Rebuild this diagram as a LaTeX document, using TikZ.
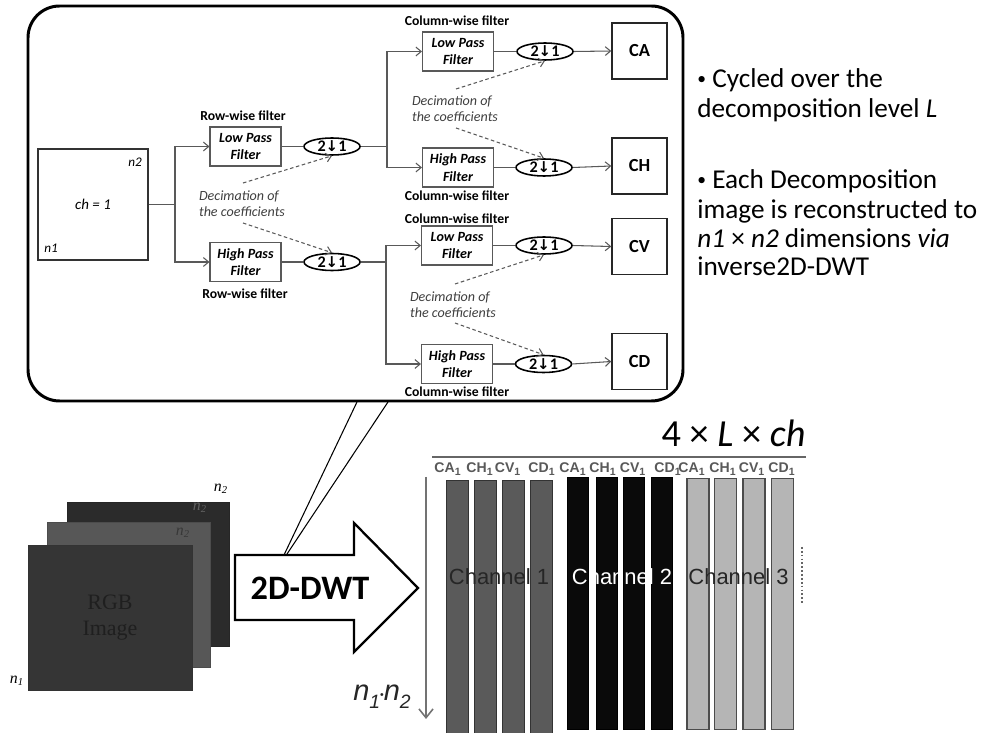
\documentclass[tikz,border=0pt]{standalone}
\usepackage{fontspec}
\setmainfont{Carlito}
\newfontfamily\arialf{Liberation Sans}
\newfontfamily\timesf{Liberation Serif}
\newfontfamily\dejavuf{DejaVu Sans}
\usetikzlibrary{shapes.geometric,arrows.meta}
\definecolor{sqback}{HTML}{2B2B2B}
\definecolor{sqmid}{HTML}{575757}
\definecolor{sqfront}{HTML}{353535}
\definecolor{barA}{HTML}{5A5A5A}
\definecolor{barB}{HTML}{0A0A0A}
\definecolor{barC}{HTML}{B5B5B5}
\newcommand\dnarr{{\dejavuf\bfseries\fontsize{8.5}{9}\selectfont ↓}}
\newcommand\smbul{\raisebox{0.12em}{\fontsize{10}{10}\selectfont •}}
\begin{document}
\begin{tikzpicture}[x=0.02cm,y=-0.02cm,
  filt/.style={draw=black!65,line width=0.6pt,minimum width=71*0.02cm,minimum height=39*0.02cm,inner sep=0,align=center,font=\fontsize{8}{10}\selectfont\bfseries\itshape},
  decim/.style={ellipse,draw=black,line width=0.9pt,minimum width=56*0.02cm,minimum height=17*0.02cm,inner sep=0,font=\fontsize{9.2}{10}\selectfont\bfseries},
  outb/.style={draw=black!85,line width=0.8pt,minimum width=55*0.02cm,minimum height=56*0.02cm,inner sep=0,font=\fontsize{10.5}{12}\selectfont\bfseries},
  lab/.style={font=\fontsize{7.8}{9}\selectfont\bfseries,inner sep=0},
  conn/.style={draw=black!65,line width=0.6pt},
  arr/.style={conn,-{Straight Barb[length=3pt,width=5pt]}},
  dasharr/.style={draw=black!65,line width=0.6pt,dash pattern=on 2pt off 1.5pt,-{Straight Barb[length=3pt,width=5pt]}},
  decl/.style={font=\fontsize{8}{9.1}\selectfont\itshape,text=black!75,align=left,inner sep=0},
  rtext/.style={anchor=base west,inner sep=0,font=\fontsize{15.5}{18}\selectfont},
  collab/.style={inner sep=0,font=\arialf\bfseries\fontsize{8}{9}\selectfont,text=black!65},
  stackn/.style={inner sep=0,font=\timesf\itshape\fontsize{9}{10}\selectfont},
]
\useasboundingbox (0,0) rectangle (992,733);
\fill[white] (0,0) rectangle (992,733);

% ---------- upper frame ----------
\node[draw=black,line width=1.7pt,rounded corners=18pt,minimum width=655*0.02cm,minimum height=395*0.02cm,inner sep=0] (frame) at (355.5,203.5) {};

% input block
\node[draw=black!80,line width=0.8pt,minimum width=110*0.02cm,minimum height=111*0.02cm,inner sep=0,font=\fontsize{8.5}{10}\selectfont\itshape] (ch) at (93,204.5) {ch = 1};
\node[inner sep=0,font=\fontsize{7.5}{9}\selectfont\itshape] (n2a) at (135,162) {n2};
\node[inner sep=0,font=\fontsize{7.5}{9}\selectfont\itshape] (n1a) at (51,248) {n1};

% row-wise filters
\node[filt] (rLP) at (245.5,146.5) {Low Pass\\Filter};
\node[filt] (rHP) at (245.5,262) {High Pass\\Filter};
\node[lab] (rl1) at (243,116) {Row-wise filter};
\node[lab] (rl2) at (245,294) {Row-wise filter};
\node[decim] (e1) at (332,146.5) {2\dnarr1};
\node[decim] (e2) at (332,262) {2\dnarr1};

% column-wise filters
\node[filt] (cLP1) at (458,51.5) {Low Pass\\Filter};
\node[filt] (cHP1) at (458,167.5) {High Pass\\Filter};
\node[filt] (cLP2) at (457,245.5) {Low Pass\\Filter};
\node[filt] (cHP2) at (457,364) {High Pass\\Filter};
\node[lab] (cl1) at (457,21) {Column-wise filter};
\node[lab] (cl2) at (457,196) {Column-wise filter};
\node[lab] (cl3) at (457,219) {Column-wise filter};
\node[lab] (cl4) at (457,392) {Column-wise filter};
\node[decim] (e3) at (545,51.5) {2\dnarr1};
\node[decim] (e4) at (544,167.5) {2\dnarr1};
\node[decim] (e5) at (544,245.5) {2\dnarr1};
\node[decim] (e6) at (543.5,364) {2\dnarr1};

% outputs
\node[outb] (CA) at (639.5,51) {CA};
\node[outb] (CH) at (639.5,166) {CH};
\node[outb] (CV) at (639.5,246.5) {CV};
\node[outb] (CD) at (639.5,361.5) {CD};

% decimation labels
\node[decl] (d1) at (242,204) {Decimation of\\the coefficients};
\node[decl] (d2) at (455,108.5) {Decimation of\\the coefficients};
\node[decl] (d3) at (453,304.5) {Decimation of\\the coefficients};

% connectors
\coordinate (j1) at (175,204.5);
\draw[conn] (ch.east) -- (j1);
\draw[arr] (j1) |- (rLP.west);
\draw[arr] (j1) |- (rHP.west);
\draw[conn] (rLP.east) -- (e1.west);
\draw[conn] (rHP.east) -- (e2.west);
\coordinate (j2) at (387,146.5);
\coordinate (j3) at (386,262);
\draw[conn] (e1.east) -- (j2);
\draw[conn] (e2.east) -- (j3);
\draw[arr] (j2) |- (cLP1.west);
\draw[arr] (j2) |- (cHP1.west);
\draw[arr] (j3) |- (cLP2.west);
\draw[arr] (j3) |- (cHP2.west);
\draw[conn] (cLP1.east) -- (e3.west);
\draw[conn] (cHP1.east) -- (e4.west);
\draw[conn] (cLP2.east) -- (e5.west);
\draw[conn] (cHP2.east) -- (e6.west);
\draw[arr] (e3.east) -- (CA.west);
\draw[arr] (e4.east) -- (CH.west);
\draw[arr] (e5.east) -- (CV.west);
\draw[arr] (e6.east) -- (CD.west);

% dashed decimation arrows
\coordinate (d1a) at (243,183);
\coordinate (d1b) at (243,223);
\coordinate (d2a) at (456,89);
\coordinate (d2b) at (456,128);
\coordinate (d3a) at (455,284);
\coordinate (d3b) at (455,323);
\draw[dasharr] (d1a) -- (e1.south);
\draw[dasharr] (d1b) -- (e2.north);
\draw[dasharr] (d2a) -- (e3.south);
\draw[dasharr] (d2b) -- (e4.north);
\draw[dasharr] (d3a) -- (e5.south);
\draw[dasharr] (d3b) -- (e6.north);

% right text
\node[rtext] (t1) at (697,88) {\smbul\ Cycled over the};
\node[rtext] (t2) at (697,118) {decomposition level \textit{L}};
\node[rtext] (t3) at (697,189) {\smbul\ Each Decomposition};
\node[rtext] (t4) at (697,219) {image is reconstructed to};
\node[rtext] (t5) at (697,248) {\textit{n1} × \textit{n2} dimensions \textit{via}};
\node[rtext] (t6) at (697,276) {inverse2D-DWT};

% ---------- lower left: RGB stack ----------
\node[fill=sqback,draw=black!85,line width=0.4pt,minimum width=162*0.02cm,minimum height=144*0.02cm,inner sep=0] (sq3) at (148,574) {};
\node[fill=sqmid,draw=black!70,line width=0.4pt,minimum width=163*0.02cm,minimum height=145*0.02cm,inner sep=0] (sq2) at (128.5,594.5) {};
\node[fill=sqfront,draw=black!80,line width=0.4pt,minimum width=164*0.02cm,minimum height=145*0.02cm,inner sep=0,align=center,font=\timesf\fontsize{12.5}{15}\selectfont,text=black!88] (sq1) at (110,617.5) {RGB\\Image};
\node[stackn] (m1) at (221,489) {n\textsubscript{2}};
\node[stackn,text=black!62] (m2) at (200,508) {n\textsubscript{2}};
\node[stackn,text=black!78] (m3) at (183,533) {n\textsubscript{2}};
\node[stackn] (m4) at (17,681) {n\textsubscript{1}};

% big arrow
\draw[line width=1.3pt,fill=white,line join=miter] (235,555) -- (354,555) -- (354,523) -- (418,588) -- (354,652) -- (354,620) -- (235,620) -- cycle;
\node[inner sep=0,font=\fontsize{19.5}{22}\selectfont\bfseries] (dwt) at (310,588) {2D-DWT};

% callout lines
\coordinate (c1) at (357,402);
\coordinate (c2) at (388,402);
\coordinate (c3) at (284,555);
\coordinate (c4) at (287,554);
\draw[line width=0.6pt] (c1) -- (c3);
\draw[line width=0.6pt] (c2) -- (c4);

% ---------- lower right: coefficient matrix ----------
\node[inner sep=0,font=\fontsize{21.8}{24}\selectfont] (dims) at (733.5,433) {4 × \textit{L} × \textit{ch}};
\coordinate (h1) at (432,457);
\coordinate (h2) at (806,457);
\draw[black!60,line width=1.1pt] (h1) -- (h2);

\coordinate (v1) at (426,477);
\coordinate (v2) at (426,719);
\draw[black!55,line width=0.9pt,-{Straight Barb[length=5pt,width=8pt]}] (v1) -- (v2);
\node[inner sep=0,font=\arialf\itshape\fontsize{16.5}{18}\selectfont,text=black!85] (nn) at (382,697) {n\raisebox{-0.28em}{\fontsize{11}{12}\selectfont 1}\raisebox{0.08em}{\fontsize{6}{6}\selectfont\upshape •}n\raisebox{-0.28em}{\fontsize{11}{12}\selectfont 2}};

\foreach \cx [count=\i] in {457.5,485.5,513.5,541.5}
  \node[fill=barA,draw=black!80,line width=0.5pt,minimum width=22*0.02cm,minimum height=256*0.02cm,inner sep=0,anchor=north] (ba\i) at (\cx,480) {};
\foreach \cx [count=\i] in {578,607,634,662}
  \node[fill=barB,draw=black,line width=0.5pt,minimum width=21*0.02cm,minimum height=252*0.02cm,inner sep=0,anchor=north] (bb\i) at (\cx,477) {};
\foreach \cx [count=\i] in {698,725.5,754,782.5}
  \node[fill=barC,draw=black!70,line width=0.8pt,minimum width=22*0.02cm,minimum height=251*0.02cm,inner sep=0,anchor=north] (bc\i) at (\cx,478) {};

\node[inner sep=0,font=\arialf\fontsize{12.5}{14}\selectfont,text=black!85] (chn1) at (499,577) {Channel 1};
\node[inner sep=0,font=\arialf\fontsize{12.5}{14}\selectfont,text=white] (chn2) at (622,577) {Channel 2};
\node[inner sep=0,font=\arialf\fontsize{12.5}{14}\selectfont,text=black!85] (chn3) at (738.5,577) {Channel 3};

\coordinate (dt1) at (802,547);
\coordinate (dt2) at (802,603);
\draw[black!60,line width=1.2pt,dash pattern=on 1pt off 1.2pt] (dt1) -- (dt2);

\foreach \lx/\txt [count=\i] in {448/CA,480/CH,508/CV,542/CD,573/CA,603/CH,633/CV,668/CD,692/CA,723/CH,752/CV,782/CD}
  \node[collab] (cl-\i) at (\lx,469) {\txt\textsubscript{1}};

\end{tikzpicture}
\end{document}
